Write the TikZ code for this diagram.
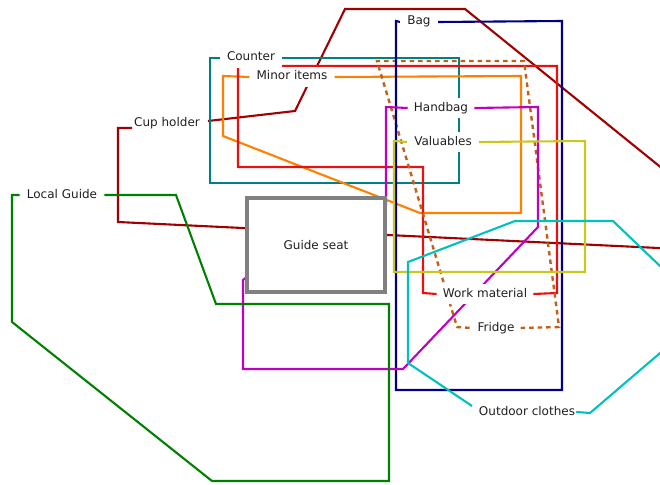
\documentclass[tikz,border=0pt]{standalone}
\usepackage{fontspec}
\setmainfont{DejaVu Sans}
\pgfdeclarelayer{bg}
\pgfsetlayers{bg,main}
\definecolor{cupc}{HTML}{A00000}
\definecolor{counterc}{HTML}{008080}
\definecolor{minorc}{HTML}{FF8000}
\definecolor{workc}{HTML}{E81010}
\definecolor{fridgec}{HTML}{C0601A}
\definecolor{bagc}{HTML}{000080}
\definecolor{handbagc}{HTML}{C000C0}
\definecolor{valc}{HTML}{C8C820}
\definecolor{seatc}{HTML}{808080}
\definecolor{guidec}{HTML}{008000}
\definecolor{outc}{HTML}{00C0C0}
\definecolor{txtc}{HTML}{202020}
\begin{document}
\begin{tikzpicture}[x=1pt,y=-1pt,
  lbl/.style={fill=white, inner xsep=7pt, inner ysep=4pt, text=txtc,
    font=\fontsize{12}{14}\selectfont, text height=9pt, text depth=3pt},
  edge line/.style={line width=2.1pt, line join=miter}]
\useasboundingbox (0,0) rectangle (660,484);
% labels
\node[lbl] (bag) at (419,22) {Bag};
\node[lbl] (counter) at (251,58) {Counter};
\node[lbl] (minor) at (292,77) {Minor items};
\node[lbl, fill=none, inner xsep=1pt] (cup) at (167,123) {Cup holder};
\node[lbl, inner xsep=6pt] (handbag) at (441,108) {Handbag};
\node[lbl, inner xsep=7pt] (valuables) at (443,142) {Valuables};
\node[lbl] (localguide) at (62,195) {Local Guide};
\node[lbl, inner xsep=6pt] (work) at (485,294) {Work material};
\node[lbl, inner xsep=6pt] (fridge) at (496,328) {Fridge};
\node[lbl, inner xsep=1pt] (outdoor) at (527,412) {Outdoor clothes};
\node[draw=seatc, line width=3.5pt, fill=white, minimum width=138pt,
  minimum height=94pt, inner sep=0pt, text=txtc,
  font=\fontsize{12}{14}\selectfont] (seat) at (316,245) {Guide seat};
\begin{pgfonlayer}{bg}
\begin{scope}
\clip (0,0) rectangle (660,484);
% Cup holder
\draw[edge line, cupc] (208,121) -- (295,111) -- (345,9) -- (465,9)
  -- (700,199) -- (700,250) -- (118,222) -- (118,128) -- (132,128);
% Counter
\draw[edge line, counterc] (counter.east) -- (459,58) -- (459,183)
  -- (210,183) -- (210,58) -- (counter.west);
% Minor items
\draw[edge line, minorc] (minor.east) -- (521,76) -- (521,213)
  -- (420,213) -- (223,136) -- (223,76) -- (minor.west);
% Work material
\draw[edge line, workc] (work.east) -- (557,293) -- (557,66) -- (238,66)
  -- (238,167) -- (423,167) -- (423,293) -- (work.west);
% Fridge
\draw[edge line, fridgec, line width=2.4pt, dash pattern=on 4.5pt off 4pt]
  (fridge.east) -- (559,327) -- (524,61) -- (377,61) -- (457,327)
  -- (fridge.west);
% Bag
\draw[edge line, bagc] (bag.east) -- (562,21) -- (562,390) -- (396,390)
  -- (396,21) -- (bag.west);
% Handbag
\draw[edge line, handbagc] (handbag.east) -- (538,107) -- (538,227)
  -- (403,369) -- (243,369) -- (243,280) -- (248,276) -- (330,240)
  -- (386,205) -- (386,107) -- (handbag.west);
% Valuables
\draw[edge line, valc] (valuables.east) -- (585,141) -- (585,272)
  -- (394,272) -- (394,141) -- (valuables.west);
% Local Guide
\draw[edge line, guidec] (localguide.east) -- (176,195) -- (216,304)
  -- (389,304) -- (389,481) -- (212,481) -- (12,322) -- (12,195)
  -- (localguide.west);
% Outdoor clothes
\draw[edge line, outc] (outdoor.east) -- (590,413) -- (708,312)
  -- (613,221) -- (515,221) -- (408,262) -- (408,363) -- (472,406);
\end{scope}
\end{pgfonlayer}
\end{tikzpicture}
\end{document}
